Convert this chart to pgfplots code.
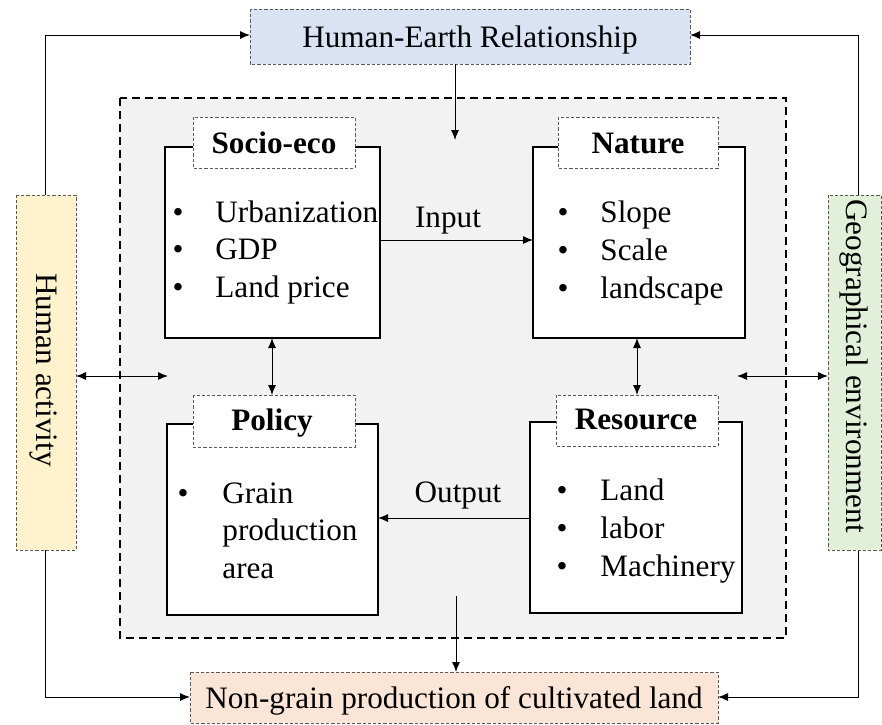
\documentclass[border=0pt]{standalone}
\usepackage{pgfplots}
\pgfplotsset{compat=1.18}
\usepackage{fontspec}
\setmainfont{Liberation Serif}
\usetikzlibrary{arrows.meta}
\definecolor{hbl}{HTML}{DAE3F3}
\definecolor{hye}{HTML}{FFF2CC}
\definecolor{hgr}{HTML}{E2F0D9}
\definecolor{hor}{HTML}{FBE5D6}
\definecolor{hgy}{HTML}{F2F2F2}
\begin{document}
\begin{tikzpicture}[
  tx/.style={font=\fontsize{15.6}{18}\selectfont, inner sep=0pt, text height=12pt, text depth=3pt},
  bx/.style={font=\fontsize{15.6}{18}\selectfont\bfseries, inner sep=0pt, text height=12pt, text depth=3pt},
  sd/.style={draw=black!65, line width=0.5pt, dash pattern=on 1.6pt off 1pt},
  ar/.style={line width=0.5pt, -{Latex[length=5pt,width=4pt]}},
  dar/.style={line width=0.5pt, {Latex[length=5pt,width=4pt]}-{Latex[length=5pt,width=4pt]}},
]
\begin{axis}[
  scale only axis, width=441pt, height=362pt,
  xmin=0, xmax=882, ymin=0, ymax=724, y dir=reverse,
  hide axis, clip=false,
]
\path (0,0) rectangle (882,724);
% outer connectors
\draw[ar] (45,195) -- (45,35) -- (250,35);
\draw[ar] (858,195) -- (858,35) -- (690,35);
\draw[ar] (45,550) -- (45,697) -- (190,697);
\draw[ar] (858,550) -- (858,697) -- (718,697);
% inner dashed area
\filldraw[fill=hgy, draw=black, line width=1pt, dash pattern=on 4pt off 2.5pt] (120,98) rectangle (786,638);
% top box
\filldraw[fill=hbl, sd] (250,9) rectangle (690,64);
\node[tx] at (470,38) {Human-Earth Relationship};
% bottom box
\filldraw[fill=hor, sd] (190,672) rectangle (718,723);
\node[tx] at (454,699) {Non-grain production of cultivated land};
% side boxes
\filldraw[fill=hye, sd] (16,195) rectangle (76,550);
\node[tx, rotate=-90] at (45,370) {Human activity};
\filldraw[fill=hgr, sd] (828,195) rectangle (881,550);
\node[tx, rotate=-90] at (855,366) {Geographical environment};
% arrows top/bottom
\draw[ar] (455,64) -- (455,140);
\draw[ar] (456,596) -- (456,672);
% side double arrows
\draw[dar] (76,376) -- (168,376);
\draw[dar] (737,376) -- (828,376);
% Socio-eco box
\filldraw[fill=white, draw=black, line width=1pt] (165,147) rectangle (380,338);
\filldraw[fill=white, sd] (193,117) rectangle (355,168);
\node[bx] at (274,144) {Socio-eco};
\node[tx] at (178,213) {\textbullet};
\node[tx, anchor=west] at (215,213) {Urbanization};
\node[tx] at (178,250) {\textbullet};
\node[tx, anchor=west] at (215,250) {GDP};
\node[tx] at (178,288) {\textbullet};
\node[tx, anchor=west] at (215,288) {Land price};
% Nature box
\filldraw[fill=white, draw=black, line width=1pt] (533,147) rectangle (745,338);
\filldraw[fill=white, sd] (558,117) rectangle (718,168);
\node[bx] at (638,144) {Nature};
\node[tx] at (563,213) {\textbullet};
\node[tx, anchor=west] at (600,213) {Slope};
\node[tx] at (563,251) {\textbullet};
\node[tx, anchor=west] at (600,251) {Scale};
\node[tx] at (563,289) {\textbullet};
\node[tx, anchor=west] at (600,289) {landscape};
% Policy box
\filldraw[fill=white, draw=black, line width=1pt] (167,424) rectangle (378,615);
\filldraw[fill=white, sd] (193,395) rectangle (355,447);
\node[bx] at (272,421) {Policy};
\node[tx] at (183,494) {\textbullet};
\node[tx, anchor=west] at (222,494) {Grain};
\node[tx, anchor=west] at (222,531) {production};
\node[tx, anchor=west] at (222,569) {area};
% Resource box
\filldraw[fill=white, draw=black, line width=1pt] (530,422) rectangle (742,613);
\filldraw[fill=white, sd] (556,395) rectangle (718,446);
\node[bx] at (636,420) {Resource};
\node[tx] at (562,491) {\textbullet};
\node[tx, anchor=west] at (600,491) {Land};
\node[tx] at (562,529) {\textbullet};
\node[tx, anchor=west] at (600,529) {labor};
\node[tx] at (562,567) {\textbullet};
\node[tx, anchor=west] at (600,567) {Machinery};
% inner arrows
\draw[ar] (380,240) -- (533,240);
\node[tx] at (448,218) {Input};
\draw[ar] (530,518) -- (378,518);
\node[tx] at (458,493) {Output};
\draw[dar] (272,338) -- (272,395);
\draw[dar] (637,338) -- (637,395);
\end{axis}
\end{tikzpicture}
\end{document}
